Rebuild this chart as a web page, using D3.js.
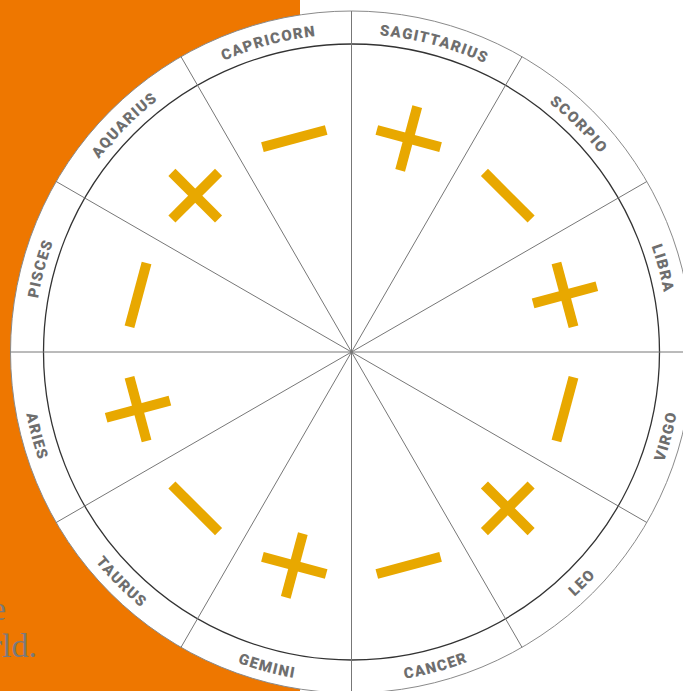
<!DOCTYPE html>
<html>
<head>
<meta charset="utf-8">
<script src="https://cdn.jsdelivr.net/npm/d3@7"></script>
<style>
  html, body { margin: 0; padding: 0; background: #fff; }
  svg { display: block; }
  .sign { font-family: Roboto, "DejaVu Sans", sans-serif; font-weight: 900; }
</style>
</head>
<body>
<div id="chart"></div>
<script>
// signs clockwise from the top (12 o'clock)
const signs = ['SAGITTARIUS', 'SCORPIO', 'LIBRA', 'VIRGO', 'LEO', 'CANCER',
               'GEMINI', 'TAURUS', 'ARIES', 'PISCES', 'AQUARIUS', 'CAPRICORN'];
// polarity of each sign, same order
const polarity = ['+', '-', '+', '-', '+', '-', '+', '-', '+', '-', '+', '-'];
// the cut-off caption on the orange panel
const captionLines = ['the', 'world.'];

const width = 683, height = 691;
const cx = 351.5, cy = 352;
const rOuter = 341, rInner = 308, rSymbol = 221;

const svg = d3.select('#chart').append('svg')
    .attr('width', width).attr('height', height);

// orange panel behind the wheel
svg.append('rect')
    .attr('x', 0).attr('y', 0)
    .attr('width', 300).attr('height', height)
    .attr('fill', '#ee7700');

svg.selectAll('text.caption')
    .data(captionLines)
    .join('text')
    .classed('caption', true)
    .attr('x', (d, i) => i === 0 ? 6 : 37)
    .attr('y', (d, i) => 620 + i * 37)
    .attr('text-anchor', 'end')
    .attr('fill', '#7a7a7a')
    .style('font-family', '"Liberation Serif", serif')
    .style('font-size', '34px')
    .text(d => d);

// compass angle (degrees, clockwise from top) for each sector
const angle = d3.scaleBand().domain(signs).range([0, 360]);
const mid = d => angle(d) + angle.bandwidth() / 2;

const pt = (deg, r) => {
    const a = deg * Math.PI / 180;
    return [cx + r * Math.sin(a), cy - r * Math.cos(a)];
};

const g = svg.append('g');

g.append('circle')
    .attr('cx', cx).attr('cy', cy).attr('r', rOuter)
    .attr('fill', '#fff')
    .attr('stroke', '#8a8a8a').attr('stroke-width', 1);

g.append('circle')
    .attr('cx', cx).attr('cy', cy).attr('r', rInner)
    .attr('fill', 'none')
    .attr('stroke', '#333').attr('stroke-width', 1.3);

// sector boundaries
g.selectAll('line.spoke')
    .data(signs)
    .join('line')
    .classed('spoke', true)
    .attr('x1', cx).attr('y1', cy)
    .attr('x2', d => pt(angle(d), rOuter)[0])
    .attr('y2', d => pt(angle(d), rOuter)[1])
    .attr('stroke', '#777').attr('stroke-width', 1);

// label arcs: upper half reads clockwise, lower half counter-clockwise
const isLower = d => mid(d) > 90 && mid(d) < 270;
const defs = svg.append('defs');
defs.selectAll('path')
    .data(signs)
    .join('path')
    .attr('id', (d, i) => 'arc' + i)
    .attr('d', d => {
        const a0 = angle(d), a1 = a0 + angle.bandwidth();
        if (isLower(d)) {
            const r = 331;
            const p0 = pt(a1, r), p1 = pt(a0, r);
            return `M${p0[0]},${p0[1]} A${r},${r} 0 0 0 ${p1[0]},${p1[1]}`;
        }
        const r = 318;
        const p0 = pt(a0, r), p1 = pt(a1, r);
        return `M${p0[0]},${p0[1]} A${r},${r} 0 0 1 ${p1[0]},${p1[1]}`;
    });

g.selectAll('text.sign')
    .data(signs)
    .join('text')
    .classed('sign', true)
    .attr('fill', '#6e6e6e')
    .style('font-size', '15px')
    .style('letter-spacing', '1.3px')
    .append('textPath')
    .attr('href', (d, i) => '#arc' + i)
    .attr('startOffset', '50%')
    .attr('text-anchor', 'middle')
    .text(d => d);

// plus / minus marks
const markLen = 66, markW = 10;
const marks = g.selectAll('g.mark')
    .data(signs)
    .join('g')
    .classed('mark', true)
    .attr('transform', d => {
        const p = pt(mid(d), rSymbol);
        return `translate(${p[0]},${p[1]}) rotate(${mid(d)})`;
    })
    .attr('fill', '#e8a800');

marks.append('rect')
    .attr('x', -markLen / 2).attr('y', -markW / 2)
    .attr('width', markLen).attr('height', markW);

marks.filter((d, i) => polarity[i] === '+')
    .append('rect')
    .attr('x', -markW / 2).attr('y', -markLen / 2)
    .attr('width', markW).attr('height', markLen);
</script>
</body>
</html>
